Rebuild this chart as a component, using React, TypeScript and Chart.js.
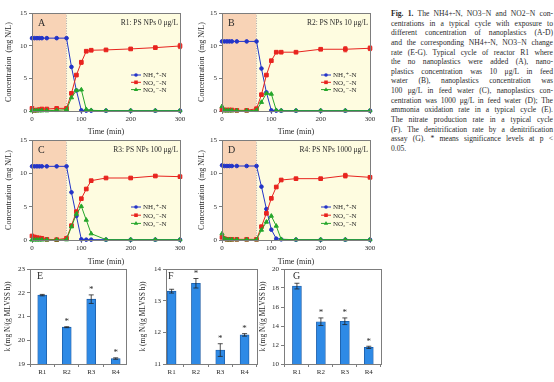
import React, { useEffect, useRef } from 'react';
import { Chart, registerables } from 'chart.js';
Chart.register(...registerables);

const FONT = "'Liberation Serif', 'DejaVu Serif', 'Times New Roman', serif";
const TXT = '#2a2a2a';
const AXIS = '#7d7d7d';
const BLUE = '#2334c8';
const RED = '#e8241f';
const GREEN = '#25a62a';
const ZONE1 = '#f8d3b6';
const ZONE2 = '#fefce0';
const BAR_FILL = '#2e8ae6';
const BAR_EDGE = '#1b5aa3';
const MU = '\u03bc';

// ---------- data ----------
const timePoints = [0, 5, 10, 15, 20, 30, 50, 70, 80, 90, 100, 110, 120, 150, 200, 250, 300];

const nh4A = [11.15, 11.15, 11.15, 11.15, 11.15, 11.15, 11.15, 11.15, 6.75, 3.15, 0.1, 0.05, 0.05, 0.05, 0.05, 0.05, 0.05];
const no3A = [0.4, 0.1, 0.15, 0.2, 0.3, 0.3, 0.4, 0.4, 2.7, 5.5, 7.45, 9.15, 9.3, 9.35, 9.5, 9.7, 9.95];
const no2A = [0.05, 0.05, 0.05, 0.05, 0.05, 0.05, 0.1, 0.2, 2.05, 3.15, 3.25, 0.25, 0.1, 0.05, 0.05, 0.05, 0.05];
const no3ErrA = [0, 0, 0, 0, 0, 0, 0, 0, 0.15, 0.1, 0.3, 0.1, 0.1, 0.1, 0.1, 0.2, 0.4];

const nh4B = [10.65, 10.65, 10.65, 10.65, 10.65, 10.65, 10.65, 10.65, 6.5, 2.85, 0.1, 0.05, 0.05, 0.05, 0.05, 0.05, 0.05];
const no3B = [0.25, 0.15, 0.15, 0.15, 0.15, 0.1, 0.1, 0.35, 2.5, 5.5, 7.7, 9.0, 9.0, 9.0, 9.45, 9.45, 9.6];
const no2B = [0.7, 0.05, 0.05, 0.05, 0.05, 0.05, 0.05, 0.1, 1.35, 2.7, 2.6, 0.1, 0.05, 0.05, 0.05, 0.05, 0.05];
const no3ErrB = [0, 0, 0, 0, 0, 0, 0, 0, 0.1, 0.1, 0.15, 0.1, 0.1, 0.1, 0.1, 0.4, 0.35];

const nh4C = [11.05, 11.05, 11.05, 11.05, 11.05, 11.05, 11.05, 11.05, 7.15, 3.6, 0.1, 0.05, 0.05, 0.05, 0.05, 0.05, 0.05];
const no3C = [0.6, 0.45, 0.35, 0.3, 0.25, 0.1, 0.05, 0.25, 2.15, 4.25, 6.2, 7.65, 8.9, 9.3, 9.3, 9.6, 9.5];
const no2C = [0.02, 0.02, 0.02, 0.02, 0.02, 0.02, 0.02, 0.05, 2.0, 3.9, 5.05, 3.0, 0.95, 0.05, 0.05, 0.05, 0.05];
const no3ErrC = [0, 0, 0, 0, 0, 0, 0, 0, 0.1, 0.1, 0.1, 0.1, 0.1, 0.1, 0.1, 0.1, 0.1];

const nh4D = [11.2, 11.1, 11.1, 11.1, 11.1, 11.1, 11.1, 11.1, 8.0, 4.65, 1.55, 0.2, 0.1, 0.05, 0.05, 0.05, 0.05];
const no3D = [0.4, 0.2, 0.1, 0.1, 0.1, 0.1, 0.1, 0.1, 2.0, 4.0, 6.25, 7.95, 9.0, 9.2, 9.2, 9.65, 9.4];
const no2D = [0.95, 0.2, 0.05, 0.05, 0.05, 0.05, 0.05, 0.05, 1.5, 2.7, 3.6, 2.1, 0.1, 0.05, 0.05, 0.05, 0.05];
const no3ErrD = [0, 0, 0, 0, 0, 0, 0, 0, 0.1, 0.1, 0.1, 0.1, 0.1, 0.1, 0.1, 0.35, 0.1];

const reactors = ['R1', 'R2', 'R3', 'R4'];
const rateE = [21.9, 20.55, 21.73, 19.23];
const errE = [0.03, 0.02, 0.18, 0.03];
const sigE = [false, true, true, true];
const rateF = [13.3, 13.55, 11.44, 11.92];
const errF = [0.06, 0.15, 0.2, 0.04];
const sigF = [false, true, true, true];
const rateG = [18.2, 14.45, 14.5, 11.75];
const errG = [0.3, 0.4, 0.35, 0.12];
const sigG = [false, true, true, true];

const panelSubs = [
  'R1: PS NPs 0 ' + MU + 'g/L',
  'R2: PS NPs 10 ' + MU + 'g/L',
  'R3: PS NPs 100 ' + MU + 'g/L',
  'R4: PS NPs 1000 ' + MU + 'g/L',
];

const captionLines = [
  'The NH4+-N, NO3\u2212N and NO2\u2212N con-',
  'centrations in a typical cycle with exposure to',
  'different concentration of nanoplastics (A-D)',
  'and the corresponding NH4+-N, NO3\u2212N change',
  'rate (E-G). Typical cycle of reactor R1 where',
  'the no nanoplastics were added (A), nano-',
  'plastics concentration was 10 \u03bcg/L in feed',
  'water (B), nanoplastics concentration was',
  '100 \u03bcg/L in feed water (C), nanoplastics con-',
  'centration was 1000 \u03bcg/L in feed water (D); The',
  'ammonia oxidation rate in a typical cycle (E).',
  'The nitrate production rate in a typical cycle',
  '(F). The denitrification rate by a denitrification',
  'assay (G). * means significance levels at p <',
  '0.05.',
];

const legendItems = [
  { label: 'NH\u2084\u207a-N', color: BLUE, shape: 'circle' },
  { label: 'NO\u2083\u207b-N', color: RED, shape: 'rect' },
  { label: 'NO\u2082\u207b-N', color: GREEN, shape: 'triangle' },
];

function drawMarker(ctx: CanvasRenderingContext2D, shape: string, x: number, y: number, color: string) {
  ctx.fillStyle = color;
  ctx.beginPath();
  if (shape === 'circle') {
    ctx.arc(x, y, 1.8, 0, Math.PI * 2);
  } else if (shape === 'rect') {
    ctx.rect(x - 1.8, y - 1.8, 3.6, 3.6);
  } else {
    ctx.moveTo(x, y - 2.3);
    ctx.lineTo(x + 2.2, y + 1.3);
    ctx.lineTo(x - 2.2, y + 1.3);
    ctx.closePath();
  }
  ctx.fill();
}

type LineProps = {
  x: number; y: number; w: number; h: number;
  padT: number; padR: number; yW: number; xH: number;
  nh4: number[]; no3: number[]; no2: number[]; no3Err: number[];
  letter: string; sub: string; legTop: number; legGap: number;
};

function LinePanel(p: LineProps) {
  const ref = useRef<HTMLCanvasElement>(null);
  useEffect(() => {
    const pts = (arr: number[]) => timePoints.map((t, i) => ({ x: t, y: arr[i] }));
    const decor = {
      id: 'decor',
      beforeDatasetsDraw(chart: any) {
        const { ctx, chartArea: a, scales } = chart;
        const x70 = scales.x.getPixelForValue(70);
        ctx.save();
        ctx.fillStyle = ZONE1;
        ctx.fillRect(a.left, a.top, x70 - a.left, a.bottom - a.top);
        ctx.fillStyle = ZONE2;
        ctx.fillRect(x70, a.top, a.right - x70, a.bottom - a.top);
        ctx.strokeStyle = '#9a9a9a';
        ctx.lineWidth = 0.8;
        ctx.setLineDash([1, 1.5]);
        ctx.beginPath();
        ctx.moveTo(x70, a.top);
        ctx.lineTo(x70, a.bottom);
        ctx.stroke();
        ctx.setLineDash([]);
        ctx.strokeStyle = RED;
        ctx.lineWidth = 0.8;
        timePoints.forEach((t, i) => {
          const e = p.no3Err[i];
          if (!e) return;
          const px = scales.x.getPixelForValue(t);
          const y1 = scales.y.getPixelForValue(p.no3[i] + e);
          const y2 = scales.y.getPixelForValue(p.no3[i] - e);
          ctx.beginPath();
          ctx.moveTo(px, y1); ctx.lineTo(px, y2);
          ctx.moveTo(px - 1.8, y1); ctx.lineTo(px + 1.8, y1);
          ctx.moveTo(px - 1.8, y2); ctx.lineTo(px + 1.8, y2);
          ctx.stroke();
        });
        ctx.restore();
      },
      afterDraw(chart: any) {
        const { ctx, chartArea: a } = chart;
        ctx.save();
        ctx.strokeStyle = AXIS;
        ctx.lineWidth = 1;
        ctx.strokeRect(a.left + 0.5, a.top + 0.5, a.right - a.left, a.bottom - a.top);
        ctx.fillStyle = TXT;
        ctx.textBaseline = 'middle';
        ctx.font = `10px ${FONT}`;
        ctx.textAlign = 'left';
        ctx.fillText(p.letter, a.left + 6, a.top + 10.5);
        ctx.font = `7.5px ${FONT}`;
        ctx.textAlign = 'right';
        ctx.fillText(p.sub, a.right - 2, a.top + 10);
        ctx.textAlign = 'left';
        ctx.font = `7px ${FONT}`;
        legendItems.forEach((it, i) => {
          const ly = a.top + p.legTop + i * p.legGap;
          const lx = a.left + 99;
          ctx.strokeStyle = it.color;
          ctx.lineWidth = 1;
          ctx.beginPath();
          ctx.moveTo(lx, ly); ctx.lineTo(lx + 10, ly);
          ctx.stroke();
          drawMarker(ctx, it.shape, lx + 5, ly, it.color);
          ctx.fillStyle = TXT;
          ctx.fillText(it.label, lx + 12, ly + 0.5);
        });
        ctx.restore();
      },
    };
    const tickFont = { family: FONT, size: 7 };
    const chart = new Chart(ref.current!, {
      type: 'line',
      data: {
        datasets: [
          { label: 'NO2', data: pts(p.no2), borderColor: GREEN, backgroundColor: GREEN, pointStyle: 'triangle', pointRadius: 2.4, borderWidth: 1, clip: false } as any,
          { label: 'NO3', data: pts(p.no3), borderColor: RED, backgroundColor: RED, pointStyle: 'rect', pointRadius: 2.6, borderWidth: 1, clip: false } as any,
          { label: 'NH4', data: pts(p.nh4), borderColor: BLUE, backgroundColor: BLUE, pointStyle: 'circle', pointRadius: 1.8, borderWidth: 1, clip: false } as any,
        ],
      },
      options: {
        animation: false,
        responsive: false,
        devicePixelRatio: 1,
        layout: { padding: { left: 0, top: p.padT, right: p.padR, bottom: 0 } },
        plugins: { legend: { display: false }, tooltip: { enabled: false } },
        elements: { point: { borderWidth: 0 }, line: { tension: 0 } },
        scales: {
          x: {
            type: 'linear', min: 0, max: 300,
            ticks: { stepSize: 100, font: tickFont, color: TXT, padding: 1, maxRotation: 0 },
            grid: { drawOnChartArea: false, tickLength: 3, color: AXIS },
            border: { color: AXIS },
            title: { display: true, text: 'Time (min)', font: { family: FONT, size: 8 }, color: TXT, padding: { top: 0, bottom: 0 } },
            afterFit: (s: any) => { s.height = p.xH; },
          },
          y: {
            min: 0, max: 15,
            ticks: { stepSize: 5, font: tickFont, color: TXT, padding: 2 },
            grid: { drawOnChartArea: false, tickLength: 3, color: AXIS },
            border: { color: AXIS },
            title: { display: true, text: 'Concentration  (mg N/L)', font: { family: FONT, size: 8 }, color: TXT, padding: { top: 4, bottom: 0 } },
            afterFit: (s: any) => { s.width = p.yW; },
          },
        },
      } as any,
      plugins: [decor],
    });
    return () => chart.destroy();
  }, []);
  return (
    <canvas ref={ref} width={p.w} height={p.h}
      style={{ position: 'absolute', left: p.x, top: p.y, width: p.w, height: p.h }} />
  );
}

type BarProps = {
  x: number; y: number; w: number; h: number;
  padT: number; padR: number; yW: number; xH: number;
  vals: number[]; errs: number[]; sig: boolean[];
  ymin: number; ymax: number; step: number; xmin: number; xmax: number;
  letter: string; letterDx: number;
};

function BarPanel(p: BarProps) {
  const ref = useRef<HTMLCanvasElement>(null);
  useEffect(() => {
    const decor = {
      id: 'bdecor',
      afterDatasetsDraw(chart: any) {
        const { ctx, scales } = chart;
        ctx.save();
        ctx.strokeStyle = '#222';
        ctx.lineWidth = 0.8;
        ctx.fillStyle = TXT;
        ctx.font = `9px ${FONT}`;
        ctx.textAlign = 'center';
        ctx.textBaseline = 'middle';
        p.vals.forEach((v, i) => {
          const px = scales.x.getPixelForValue(i + 1);
          const y1 = scales.y.getPixelForValue(v + p.errs[i]);
          const y2 = scales.y.getPixelForValue(v - p.errs[i]);
          ctx.beginPath();
          ctx.moveTo(px, y1); ctx.lineTo(px, y2);
          ctx.moveTo(px - 2.5, y1); ctx.lineTo(px + 2.5, y1);
          ctx.moveTo(px - 2.5, y2); ctx.lineTo(px + 2.5, y2);
          ctx.stroke();
          if (p.sig[i]) ctx.fillText('*', px, y1 - 5);
        });
        ctx.restore();
      },
      afterDraw(chart: any) {
        const { ctx, chartArea: a } = chart;
        ctx.save();
        ctx.strokeStyle = AXIS;
        ctx.lineWidth = 1;
        ctx.strokeRect(a.left + 0.5, a.top + 0.5, a.right - a.left, a.bottom - a.top);
        ctx.fillStyle = TXT;
        ctx.font = `10px ${FONT}`;
        ctx.textAlign = 'left';
        ctx.textBaseline = 'middle';
        ctx.fillText(p.letter, a.left + p.letterDx, a.top + 7);
        ctx.restore();
      },
    };
    const tickFont = { family: FONT, size: 7 };
    const chart = new Chart(ref.current!, {
      type: 'bar',
      data: {
        datasets: [{
          data: p.vals.map((v, i) => ({ x: i + 1, y: v })),
          backgroundColor: BAR_FILL, borderColor: BAR_EDGE, borderWidth: 0.8,
          barThickness: 9,
        } as any],
      },
      options: {
        animation: false,
        responsive: false,
        devicePixelRatio: 1,
        layout: { padding: { left: 0, top: p.padT, right: p.padR, bottom: 0 } },
        plugins: { legend: { display: false }, tooltip: { enabled: false } },
        scales: {
          x: {
            type: 'linear', min: p.xmin, max: p.xmax, offset: false,
            afterBuildTicks: (s: any) => { s.ticks = [1, 2, 3, 4].map(v => ({ value: v })); },
            ticks: { font: tickFont, color: TXT, padding: 1, maxRotation: 0, autoSkip: false, callback: (v: any) => reactors[Math.round(v) - 1] },
            grid: { drawOnChartArea: false, tickLength: 3, color: AXIS },
            border: { color: AXIS },
            afterFit: (s: any) => { s.height = p.xH; },
          },
          y: {
            min: p.ymin, max: p.ymax,
            ticks: { stepSize: p.step, font: tickFont, color: TXT, padding: 2 },
            grid: { drawOnChartArea: false, tickLength: 3, color: AXIS },
            border: { color: AXIS },
            title: { display: true, text: 'k (mg N/(g MLVSS h))', font: { family: FONT, size: 7.5 }, color: TXT, padding: { top: 4, bottom: 0 } },
            afterFit: (s: any) => { s.width = p.yW; },
          },
        },
      } as any,
      plugins: [decor],
    });
    return () => chart.destroy();
  }, []);
  return (
    <canvas ref={ref} width={p.w} height={p.h}
      style={{ position: 'absolute', left: p.x, top: p.y, width: p.w, height: p.h }} />
  );
}

function Caption() {
  return (
    <div style={{ position: 'absolute', left: 391, top: 9, width: 162, fontFamily: FONT, fontSize: 7.6, color: TXT }}>
      {captionLines.map((ln, i) => (
        <div key={i} style={{
          height: 9.65, lineHeight: '9.65px', whiteSpace: 'nowrap', overflow: 'visible',
          textAlign: i === captionLines.length - 1 ? 'left' : 'justify',
          textAlignLast: i === captionLines.length - 1 ? 'left' : 'justify',
        } as any}>
          {i === 0 ? <span style={{ fontWeight: 'bold' }}>Fig. 1. </span> : null}
          {ln}
        </div>
      ))}
    </div>
  );
}

export default function App() {
  return (
    <div style={{ position: 'absolute', left: 0, top: 0, width: 554, height: 382, background: '#fff', overflow: 'hidden' }}>
      <LinePanel x={0} y={0} w={190} h={137} padT={13} padR={10} yW={32} xH={26}
        nh4={nh4A} no3={no3A} no2={no2A} no3Err={no3ErrA}
        letter="A" sub={panelSubs[0]} legTop={62} legGap={7.3} />
      <LinePanel x={193} y={0} w={197} h={137} padT={13} padR={20} yW={29} xH={26}
        nh4={nh4B} no3={no3B} no2={no2B} no3Err={no3ErrB}
        letter="B" sub={panelSubs[1]} legTop={62} legGap={7.3} />
      <LinePanel x={0} y={127} w={190} h={140} padT={13} padR={10} yW={32} xH={27}
        nh4={nh4C} no3={no3C} no2={no2C} no3Err={no3ErrC}
        letter="C" sub={panelSubs[2]} legTop={67} legGap={8.2} />
      <LinePanel x={193} y={127} w={197} h={140} padT={13} padR={20} yW={29} xH={27}
        nh4={nh4D} no3={no3D} no2={no2D} no3Err={no3ErrD}
        letter="D" sub={panelSubs[3]} legTop={67} legGap={8.2} />
      <BarPanel x={0} y={260} w={135} h={122} padT={9} padR={9} yW={30} xH={18}
        vals={rateE} errs={errE} sig={sigE} ymin={19} ymax={23} step={1} xmin={0.5} xmax={4.42}
        letter="E" letterDx={7} />
      <BarPanel x={135} y={260} w={131} h={122} padT={9} padR={9} yW={31} xH={18}
        vals={rateF} errs={errF} sig={sigF} ymin={11} ymax={14} step={1} xmin={0.77} xmax={4.51}
        letter="F" letterDx={2} />
      <BarPanel x={255} y={260} w={135} h={122} padT={9} padR={9} yW={29} xH={18}
        vals={rateG} errs={errG} sig={sigG} ymin={10} ymax={20} step={2} xmin={0.46} xmax={4.51}
        letter="G" letterDx={9} />
      <Caption />
    </div>
  );
}
